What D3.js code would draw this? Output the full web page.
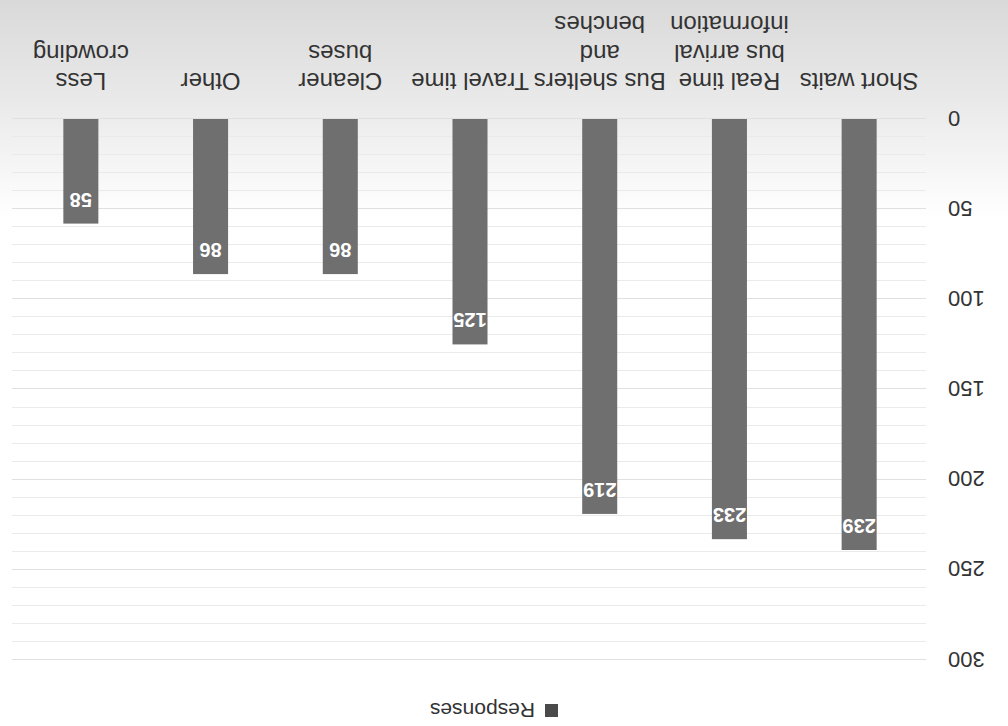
<!DOCTYPE html>
<html>
<head>
<meta charset="utf-8">
<script src="https://cdn.jsdelivr.net/npm/d3@7"></script>
<style>
  html, body { margin: 0; padding: 0; background: #ffffff; }
  svg { display: block; }
</style>
</head>
<body>
<script>
// ---- data ----
const categories = [
  "Short waits",
  "Real time\nbus arrival\ninformation",
  "Bus shelters\nand\nbenches",
  "Travel time",
  "Cleaner\nbuses",
  "Other",
  "Less\ncrowding"
];
const responses = [239, 233, 219, 125, 86, 86, 58];
const yTicks = [0, 50, 100, 150, 200, 250, 300];
const seriesName = "Responses";

// ---- layout ----
const W = 1008, H = 726;
const plot = { left: 84, right: 992, top: 66, bottom: 607 };
const fontFamily = "'Liberation Sans', Arial, sans-serif";
const textColor = "#333333";
const barColor = "#6f6f6f";

const svg = d3.select("body").append("svg")
  .attr("width", W).attr("height", H);

const defs = svg.append("defs");
const grad = defs.append("linearGradient")
  .attr("id", "bg").attr("x1", 0).attr("y1", 0).attr("x2", 0).attr("y2", 1);
grad.append("stop").attr("offset", "0%").attr("stop-color", "#ffffff");
grad.append("stop").attr("offset", "70%").attr("stop-color", "#ffffff");
grad.append("stop").attr("offset", "84%").attr("stop-color", "#ececec");
grad.append("stop").attr("offset", "100%").attr("stop-color", "#d9d9d9");

// whole chart drawn upright, then turned 180 degrees like the reference scan
const g = svg.append("g").attr("transform", `rotate(180, ${W/2}, ${H/2})`);

g.append("rect").attr("x", 0).attr("y", 0).attr("width", W).attr("height", H)
  .attr("fill", "url(#bg)");

const x = d3.scaleBand()
  .domain(categories)
  .range([plot.left, plot.right])
  .paddingInner(0.73)
  .paddingOuter(0.365);

const y = d3.scaleLinear()
  .domain([0, 300])
  .range([plot.bottom, plot.top]);

// gridlines every 10 units
const grid = g.append("g");
grid.selectAll("line")
  .data(d3.range(0, 301, 10))
  .join("line")
  .attr("x1", plot.left - 2).attr("x2", plot.right + 4)
  .attr("y1", d => Math.round(y(d)) + 0.5)
  .attr("y2", d => Math.round(y(d)) + 0.5)
  .attr("stroke", d => d % 50 === 0 ? "#e0e0e0" : "#eaeaea")
  .attr("stroke-width", 1);

// y axis labels
const yAxis = d3.axisLeft(y).tickValues(yTicks).tickSize(0).tickPadding(0);
const ya = g.append("g").attr("transform", `translate(60,0)`).call(yAxis);
ya.select(".domain").remove();
ya.selectAll("text")
  .attr("font-family", fontFamily)
  .attr("font-size", 22)
  .attr("fill", textColor)
  .attr("x", 0)
  .attr("dy", "0.36em");

// bars
g.append("g").selectAll("rect")
  .data(categories)
  .join("rect")
  .attr("x", d => x(d))
  .attr("width", x.bandwidth())
  .attr("y", (d, i) => y(responses[i]))
  .attr("height", (d, i) => y(0) - y(responses[i]))
  .attr("fill", barColor);

// value labels inside bar tops
g.append("g").selectAll("text")
  .data(categories)
  .join("text")
  .attr("x", d => x(d) + x.bandwidth() / 2)
  .attr("y", (d, i) => y(responses[i]) + 31)
  .attr("text-anchor", "middle")
  .attr("font-family", fontFamily)
  .attr("font-size", 20)
  .attr("font-weight", "bold")
  .attr("fill", "#ffffff")
  .text((d, i) => responses[i]);

// category labels under the axis
const catG = g.append("g");
categories.forEach(c => {
  const t = catG.append("text")
    .attr("text-anchor", "middle")
    .attr("font-family", fontFamily)
    .attr("font-size", 24)
    .attr("fill", textColor);
  c.split("\n").forEach((line, k) => {
    t.append("tspan")
      .attr("x", x(c) + x.bandwidth() / 2)
      .attr("y", 653 + k * 28.5)
      .text(line);
  });
});

// legend
const leg = g.append("g");
leg.append("rect").attr("x", 450).attr("y", 9).attr("width", 13).attr("height", 13)
  .attr("fill", "#4a4a4a");
leg.append("text").attr("x", 473).attr("y", 23)
  .attr("font-family", fontFamily).attr("font-size", 21).attr("fill", textColor)
  .text(seriesName);
</script>
</body>
</html>
